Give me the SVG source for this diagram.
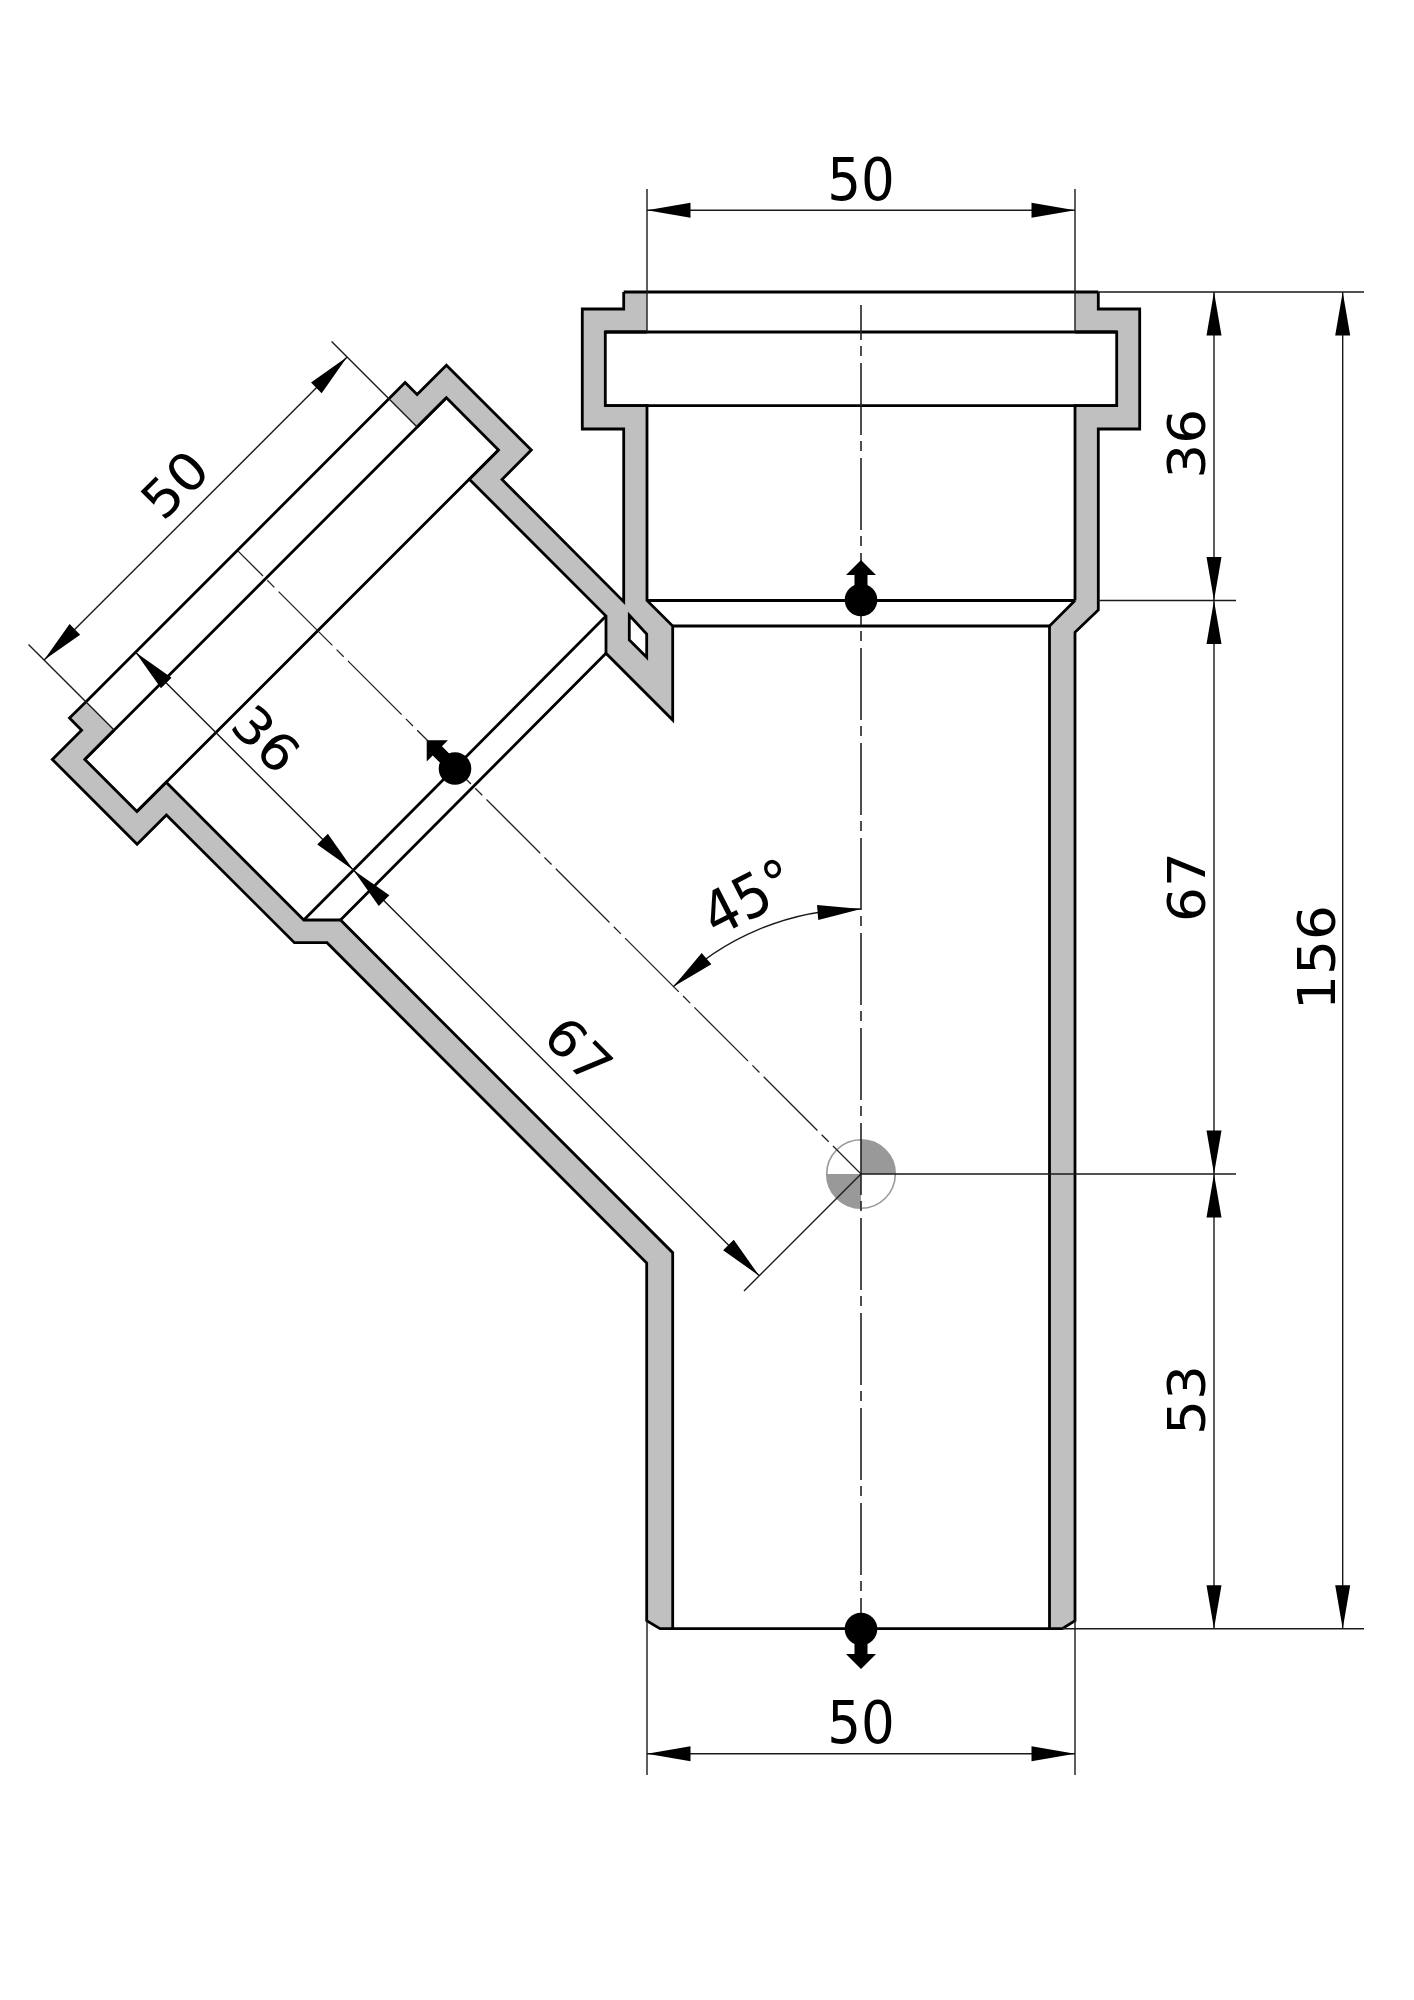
<svg xmlns="http://www.w3.org/2000/svg" xmlns:xlink="http://www.w3.org/1999/xlink" width="1414" height="2000" viewBox="0 0 1414 2000">
<style>
.body{fill:#c0c0c0;stroke:none}
.edge{fill:none;stroke:#000;stroke-width:2.8;stroke-linejoin:miter}
.thin{fill:none;stroke:#1a1a1a;stroke-width:1.4}
.axis{fill:none;stroke:#222;stroke-width:1.6}
.dim{font-family:"DejaVu Sans","Liberation Sans",sans-serif;font-size:55px;text-anchor:middle;fill:#000}
.cond{font-family:"DejaVu Sans Condensed","DejaVu Sans",sans-serif;font-size:59px;text-anchor:middle;fill:#000}
</style>
<defs>
<path id="ah" d="M0 0L-43.5 -7.5V7.5Z" fill="#000"/>
<g id="flow" fill="#000"><circle r="16.3"/><path d="M-6.5 0V-25H-15L0 -40L15 -25H6.5V0Z"/></g>
</defs>
<rect width="1414" height="2000" fill="#fff"/>

<g id="pipe-body">
<path class="body" d="M1075 292H1098.3V309H1139.7V429H1098.3V610L1075 632.3V1620.7L1062.3 1628.7H1049.5V626L1075 600.5V405.7H1116.7V332H1075Z"/>
<path class="body" fill-rule="evenodd" d="M647 292H623.7V309H582.3V429H623.7V601.7L502 479.4L531.3 450.1L446.4 365.3L417.1 394.6L405.1 382.5L388.9 398.8L417.1 427.1L446.4 397.8L498.5 449.9L469.3 479.2L606 616V653.3L672.7 720V626L647 600.5V405.7H605.3V332H647ZM629.3 615.3L646.7 634V657.3L629.3 640Z"/>
<path class="body" d="M85.8 701.9L69.5 718.1L81.6 730.2L52.3 759.4L137.1 844.3L166.4 815L294.4 942.7H327L646.7 1263V1620.7L660 1628.7H672.7V1252.7L340.5 920H303.8L166.2 782.3L136.9 811.5L84.8 759.4L114.1 730.1Z"/>
<path class="edge" d="M1075 332H1116.7V405.7H1075V600.5M1098.3 292V309H1139.7V429H1098.3V610L1075 632.3V1620.7L1062.3 1628.7H660L646.7 1620.7V1263L327 942.7H294.4L166.4 815L137.1 844.3L52.3 759.4L81.6 730.2L69.5 718.1L85.8 701.9"/>
<path class="edge" d="M1049.5 1628.7V626L1075 600.5M647 332H605.3V405.7H647V600.5L672.7 626V720L606 653.3V616L469.3 479.2L498.5 449.9L446.4 397.8L417.1 427.1"/>
<path class="edge" d="M623.7 292V309H582.3V429H623.7V601.7L502 479.4L531.3 450.1L446.4 365.3L417.1 394.6L405.1 382.5L388.9 398.8"/>
<path class="edge" d="M672.7 1628.7V1252.7L340.5 920H303.8L166.2 782.3L136.9 811.5L84.8 759.4L114.1 730.1"/>
<path class="edge" d="M623.7 292H1098.3M605.3 332H1116.7M605.3 405.7H1116.7M647 600.5H1075M672.7 626H1049.5"/>
<path class="edge" d="M388.9 398.8L85.8 701.9M446.4 397.8L84.8 759.4M498.5 449.9L136.9 811.5M606 616L303.8 920M606 653.3L340.5 920"/>
<path class="edge" d="M629.3 615.3L646.7 634V657.3L629.3 640Z" fill="#fff"/>
</g>

<g id="datum">
<circle cx="861" cy="1174" r="34.3" fill="#fff" stroke="#999" stroke-width="1.6"/>
<path d="M861 1174V1139.7A34.3 34.3 0 0 1 895.3 1174ZM861 1174V1208.3A34.3 34.3 0 0 1 826.7 1174Z" fill="#999"/>
</g>

<g id="connectors">
<line class="axis" x1="861" y1="305" x2="861" y2="1640" stroke-dasharray="72 6 10 7" stroke-dashoffset="37"/>
<line class="axis" x1="237.6" y1="550.6" x2="861" y2="1174" stroke-dasharray="76 6 10 6" stroke-dashoffset="40" style="stroke-width:1.3"/>
<path class="thin" d="M647 189V332M1075 189V332M647 1620V1775M1075 1620V1775"/>
<path class="thin" d="M647 210.3H1075M647 1753.7H1075M1214 292V1628.7M1342.7 292V1628.7"/>
<path class="thin" d="M1098 292H1364M1098 600.5H1236M861 1174H1236M1062 1628.7H1364"/>
<path class="thin" d="M417.1 427.1L331.6 341.5M114.1 730.1L28.5 644.6M347.1 357.1L44.1 660.1"/>
<path class="thin" d="M135.5 652.2L759.2 1275.8M861 1174L744 1291"/>
<path class="thin" d="M861 909A265 265 0 0 0 673.3 986.7"/>
<use xlink:href="#ah" transform="translate(647 210.3) rotate(180)"/>
<use xlink:href="#ah" transform="translate(1075 210.3)"/>
<use xlink:href="#ah" transform="translate(647 1753.7) rotate(180)"/>
<use xlink:href="#ah" transform="translate(1075 1753.7)"/>
<use xlink:href="#ah" transform="translate(1214 292) rotate(-90)"/>
<use xlink:href="#ah" transform="translate(1214 600.5) rotate(90)"/>
<use xlink:href="#ah" transform="translate(1214 600.5) rotate(-90)"/>
<use xlink:href="#ah" transform="translate(1214 1174) rotate(90)"/>
<use xlink:href="#ah" transform="translate(1214 1174) rotate(-90)"/>
<use xlink:href="#ah" transform="translate(1214 1628.7) rotate(90)"/>
<use xlink:href="#ah" transform="translate(1342.7 292) rotate(-90)"/>
<use xlink:href="#ah" transform="translate(1342.7 1628.7) rotate(90)"/>
<use xlink:href="#ah" transform="translate(347.1 357.1) rotate(-45)"/>
<use xlink:href="#ah" transform="translate(44.1 660.1) rotate(135)"/>
<use xlink:href="#ah" transform="translate(135.5 652.2) rotate(-135)"/>
<use xlink:href="#ah" transform="translate(353.3 869.9) rotate(45)"/>
<use xlink:href="#ah" transform="translate(353.3 869.9) rotate(-135)"/>
<use xlink:href="#ah" transform="translate(759.2 1275.8) rotate(45)"/>
<use xlink:href="#ah" transform="translate(861 909) rotate(-4.6)"/>
<use xlink:href="#ah" transform="translate(673.3 986.7) rotate(139.8)"/>
</g>

<g id="flow-symbols">
<use xlink:href="#flow" transform="translate(861 600)"/>
<use xlink:href="#flow" transform="translate(861 1629) rotate(180)"/>
<use xlink:href="#flow" transform="translate(455 768.5) rotate(-45)"/>
</g>

<g id="labels">
<text class="cond" x="861" y="200">50</text>
<text class="cond" x="861" y="1743">50</text>
<text class="dim" transform="translate(1205 443.7) rotate(-90) scale(1 .94)">36</text>
<text class="dim" transform="translate(1205 887) rotate(-90) scale(1 .94)">67</text>
<text class="dim" transform="translate(1205 1400) rotate(-90) scale(1 .94)">53</text>
<text class="dim" transform="translate(1335 957.5) rotate(-90) scale(1 .94)">156</text>
<text class="dim" transform="translate(187.7 497.5) rotate(-45) scale(1 .94)">50</text>
<text class="dim" transform="translate(253 751.9) rotate(45) scale(1 .94)">36</text>
<text class="dim" transform="translate(565.5 1063.6) rotate(45) scale(1 .94)">67</text>
<text class="cond" transform="translate(758 916) rotate(-27)" style="font-size:60px">45°</text>
</g>
</svg>
